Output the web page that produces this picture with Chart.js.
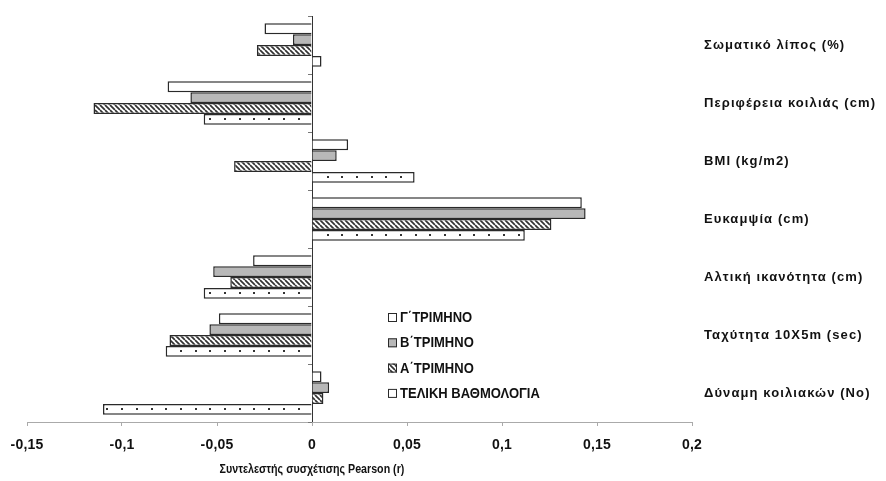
<!DOCTYPE html>
<html><head><meta charset="utf-8">
<script src="https://cdn.jsdelivr.net/npm/chart.js@4.4.0/dist/chart.umd.min.js"></script>
<style>html,body{margin:0;padding:0;background:#fff;}#wrap{width:886px;height:481px;}</style>
</head><body><div id="wrap"><canvas id="c" width="886" height="481"></canvas></div>
<script>
const categories = ['Σωματικό λίπος (%)','Περιφέρεια κοιλιάς (cm)','BMI (kg/m2)','Ευκαμψία (cm)','Αλτική ικανότητα (cm)','Ταχύτητα 10X5m (sec)','Δύναμη κοιλιακών (No)'];
const seriesLabels = ['Γ΄ΤΡΙΜΗΝΟ','Β΄ΤΡΙΜΗΝΟ','Α΄ΤΡΙΜΗΝΟ','ΤΕΛΙΚΗ ΒΑΘΜΟΛΟΓΙΑ'];
const gammaTrim = [-0.025, -0.076, 0.019, 0.142, -0.031, -0.049, 0.005];
const betaTrim  = [-0.010, -0.064, 0.013, 0.144, -0.052, -0.054, 0.009];
const alphaTrim = [-0.029, -0.115, -0.041, 0.126, -0.043, -0.075, 0.006];
const finalGrade = [0.005, -0.057, 0.054, 0.112, -0.057, -0.077, -0.110];
const xMin = -0.15, xMax = 0.2, xStep = 0.05;
const axisTitle = 'Συντελεστής συσχέτισης Pearson (r)';

const FONT = "'Liberation Sans', Arial, sans-serif";
const DARK = '#2a2a2a';

function hatch() {
  const s = 5, c = document.createElement('canvas');
  c.width = s; c.height = s;
  const g = c.getContext('2d');
  g.fillStyle = '#fff'; g.fillRect(0, 0, s, s);
  g.strokeStyle = '#333'; g.lineWidth = 1.7;
  g.beginPath();
  for (const o of [-s, 0, s]) { g.moveTo(o, 0); g.lineTo(o + s, s); }
  g.stroke();
  return g.createPattern(c, 'repeat');
}
const hatchPat = hatch();
const fills = ['#ffffff', '#b8b8b8', hatchPat, '#ffffff'];

function spaced(spacing) {
  return s => {
    s.__spacing = spacing;
    if (!s.__patched) {
      const orig = s.drawLabels;
      s.drawLabels = function (ca) {
        const c = this.ctx;
        c.save();
        c.letterSpacing = this.__spacing + 'px';
        orig.call(this, ca);
        c.restore();
      };
      s.__patched = true;
    }
  };
}

const extras = {
  id: 'extras',
  afterDatasetsDraw(chart) {
    const ctx = chart.ctx;
    const xs = chart.scales.x, ys = chart.scales.y;
    const meta = chart.getDatasetMeta(3);
    ctx.save();
    ctx.fillStyle = '#333';
    meta.data.forEach(el => {
      const l = Math.min(el.x, el.base), r = Math.max(el.x, el.base);
      const step = 14.7;
      if (el.x >= el.base) {
        for (let px = el.base + 14; px < r - 3; px += step) ctx.fillRect(Math.round(px), Math.round(el.y) - 1, 2, 2);
      } else {
        for (let px = el.base - 14; px > l + 3; px -= step) ctx.fillRect(Math.round(px), Math.round(el.y) - 1, 2, 2);
      }
    });
    const x0 = xs.getPixelForValue(0);
    ctx.strokeStyle = '#777'; ctx.lineWidth = 1;
    ctx.beginPath();
    for (let i = 0; i <= categories.length; i++) {
      const y = Math.round(ys.getPixelForValue(i - 0.5)) + 0.5;
      ctx.moveTo(x0 - 4, y); ctx.lineTo(x0, y);
    }
    ctx.stroke();
    ctx.restore();
  },
  afterDraw(chart) {
    const ctx = chart.ctx;
    const xs = chart.scales.x;
    ctx.save();
    ctx.fillStyle = '#111';
    ctx.textBaseline = 'middle';
    ctx.font = 'bold 12px ' + FONT;
    ctx.textAlign = 'center';
    ctx.save();
    ctx.translate(xs.getPixelForValue(0), 470);
    ctx.scale(0.89, 1.05);
    ctx.fillText(axisTitle, 0, 0);
    ctx.restore();
    ctx.textAlign = 'left';
    ctx.font = 'bold 14px ' + FONT;
    const lx = 388, ly0 = 317.5, dy = 25.3;
    seriesLabels.forEach((lab, i) => {
      const y = ly0 + i * dy;
      ctx.fillStyle = fills[i];
      ctx.fillRect(lx, y - 4.5, 9, 9);
      ctx.strokeStyle = DARK; ctx.lineWidth = 1;
      ctx.strokeRect(lx + 0.5, y - 4.5 + 0.5, 8, 8);
      ctx.fillStyle = '#111';
      ctx.save();
      ctx.translate(lx + 12, y + 0.5);
      ctx.scale(0.93, 1.05);
      ctx.fillText(lab, 0, 0);
      ctx.restore();
    });
    ctx.restore();
  }
};

const datasets = [gammaTrim, betaTrim, alphaTrim, finalGrade].map((d, i) => ({
  label: seriesLabels[i],
  data: d,
  backgroundColor: fills[i],
  borderColor: DARK,
  borderWidth: 1.5,
  categoryPercentage: 0.75,
  barPercentage: 1.0
}));

new Chart(document.getElementById('c'), {
  type: 'bar',
  data: { labels: categories, datasets },
  options: {
    indexAxis: 'y',
    responsive: false,
    animation: false,
    devicePixelRatio: 1,
    layout: { padding: { left: 27, top: 16, right: 0, bottom: 0 } },
    plugins: { legend: { display: false }, tooltip: { enabled: false } },
    scales: {
      x: {
        min: xMin, max: xMax,
        ticks: {
          stepSize: xStep,
          color: '#111',
          padding: 11,
          font: { family: FONT, size: 14, weight: 'bold' },
          callback: v => String(Math.round(v * 100) / 100).replace('.', ',')
        },
        grid: {
          color: c => (c.tick && Math.abs(c.tick.value) < 1e-9) ? '#333' : 'rgba(0,0,0,0)',
          lineWidth: 1,
          drawTicks: true,
          tickLength: 4,
          tickColor: '#aaa'
        },
        border: { display: true, color: '#aaa', width: 1 },
        afterFit: s => { s.height = 59; spaced(0.2)(s); }
      },
      y: {
        position: 'right',
        ticks: {
          color: '#111',
          padding: 12,
          font: { family: FONT, size: 13, weight: 'bold' }
        },
        grid: { display: false, drawTicks: false },
        border: { display: false },
        afterFit: s => { s.width = 194; s.paddingTop = 0; s.paddingBottom = 0; spaced(1.1)(s); }
      }
    }
  },
  plugins: [extras]
});
</script></body></html>
